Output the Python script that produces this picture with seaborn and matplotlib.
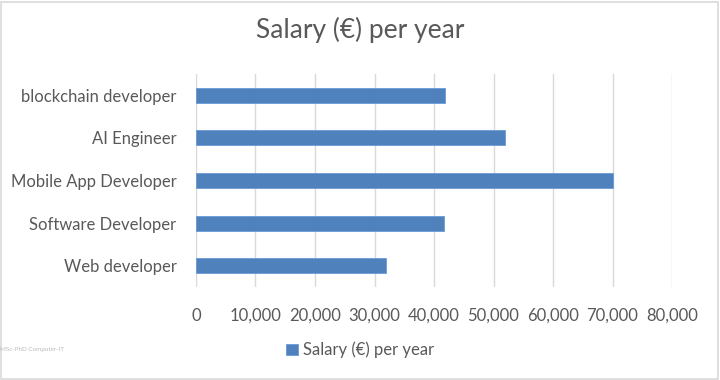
import matplotlib
matplotlib.use("Agg")
import matplotlib.pyplot as plt
import seaborn as sns
import pandas as pd
from matplotlib.ticker import FuncFormatter, MultipleLocator
from matplotlib.patches import Rectangle

# data
jobs = ["blockchain developer", "AI Engineer", "Mobile App Developer",
        "Software Developer", "Web developer"]
salary = [41800, 52000, 70000, 41700, 32000]
series_name = "Salary (€) per year"

df = pd.DataFrame({"job": jobs, "salary": salary})

sns.set_theme(style="white")
plt.rcParams['font.family'] = ['Lato', 'DejaVu Sans']
text_col = "#595959"
bar_col = "#4f81bd"

fig = plt.figure(figsize=(7.2, 3.8), dpi=100)
ax = fig.add_axes([196/720, 1 - 287/380, (672-196)/720, (287-74)/380])

sns.barplot(data=df, y="job", x="salary", orient="h", color=bar_col,
            width=0.35, edgecolor="#6a9ad6", linewidth=0.6, ax=ax,
            saturation=1, label=series_name)

ax.set_xlim(0, 80000)
ax.xaxis.set_major_locator(MultipleLocator(10000))
ax.xaxis.set_major_formatter(FuncFormatter(lambda v, p: f"{int(v):,}"))
ax.grid(axis="x", color="#d9d9d9", linewidth=1)
ax.set_axisbelow(True)
for s in ax.spines.values():
    s.set_visible(False)
ax.set_xlabel("")
ax.set_ylabel("")
ax.tick_params(axis="both", length=0, labelsize=12, colors=text_col)
ax.tick_params(axis="x", pad=15)
ax.tick_params(axis="y", pad=14)

fig.suptitle(series_name, y=0.955, fontsize=19, color=text_col)

leg = fig.legend(*ax.get_legend_handles_labels(), loc="center",
                 bbox_to_anchor=(0.5, 1 - 350/380), frameon=False,
                 fontsize=12, handlelength=0.7, handleheight=0.7,
                 handletextpad=0.3)
ax.get_legend().remove() if ax.get_legend() else None
for t in leg.get_texts():
    t.set_color(text_col)

# outer border like the exported chart
fig.patches.append(Rectangle((0.002, 0.003), 0.995, 0.993, transform=fig.transFigure,
                             fill=False, edgecolor="#d9d9d9", linewidth=1.2))

# faint watermark bottom-left
fig.text(0.045, 0.075, "MSc-PhD Computer-IT", fontsize=4.5, color="#bbbbbb", ha="center")

fig.savefig("out.png", dpi=100)
